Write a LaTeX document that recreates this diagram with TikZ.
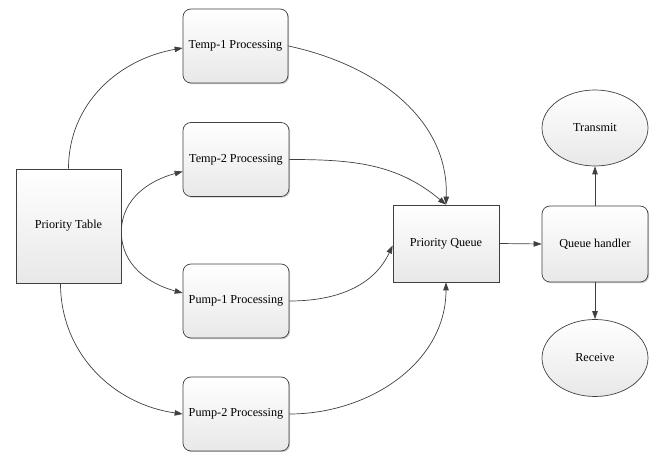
\documentclass[tikz,border=0pt]{standalone}
\usepackage{fontspec}
\setmainfont{Liberation Serif}
\newfontfamily\labelfont{Liberation Serif}
\usetikzlibrary{arrows.meta,shapes.geometric,shadows}
\definecolor{edge}{HTML}{404040}
\begin{document}
\begin{tikzpicture}[x=1pt,y=1pt,
  base/.style={draw=edge, line width=0.7pt, top color=white, bottom color=black!9,
    font=\labelfont\fontsize{12.2}{14}\selectfont, text=black, inner sep=0pt},
  sharpbox/.style={base, rectangle,
    drop shadow={shadow xshift=1.3pt, shadow yshift=-1.3pt, fill=black!55, opacity=1}},
  roundbox/.style={base, rectangle, rounded corners=8pt,
    drop shadow={shadow xshift=1.2pt, shadow yshift=-1.2pt, fill=black!20, opacity=1}},
  oval/.style={base, ellipse},
  link/.style={draw=edge, line width=0.7pt, -{Triangle[length=8pt,width=5.5pt]}}]
\useasboundingbox (0,0) rectangle (654,452);

% source table
\node[sharpbox, minimum width=105pt, minimum height=114pt] (PT) at (68.5,226) {Priority Table};

% processing tasks
\node[roundbox, minimum width=105pt, minimum height=74pt] (T1) at (235.5,406) {Temp-1 Processing};
\node[roundbox, minimum width=106pt, minimum height=74pt] (T2) at (236,292.5) {Temp-2 Processing};
\node[roundbox, minimum width=106pt, minimum height=74pt] (P1) at (236,151) {Pump-1 Processing};
\node[roundbox, minimum width=106pt, minimum height=74pt] (P2) at (236,38) {Pump-2 Processing};

% queue and handler
\node[sharpbox, minimum width=106pt, minimum height=77pt] (PQ) at (446,208.5) {Priority Queue};
\node[roundbox, minimum width=106pt, minimum height=76pt] (QH) at (595,208) {Queue handler};

% endpoints
\node[oval, minimum width=106pt, minimum height=76pt] (TX) at (595,324) {Transmit};
\node[oval, minimum width=106pt, minimum height=77pt] (RX) at (595,94) {Receive};

% table to tasks
\draw[link] (PT.north) to[out=90, in=190] ([yshift=-2pt]T1.west);
\draw[link] ([yshift=-6pt]PT.east) to[out=90, in=195] ([yshift=-12pt]T2.west);
\draw[link] ([yshift=-6pt]PT.east) to[out=-90, in=165] ([yshift=8pt]P1.west);
\draw[link] ([xshift=-8pt]PT.south) to[out=-90, in=172] (P2.west);

% tasks to queue
\draw[link] (T1.east) to[out=-12, in=88] (PQ.north);
\draw[link] (T2.east) to[out=0, in=140] (PQ.north);
\draw[link] (P1.east) to[out=0, in=245] ([yshift=-2pt]PQ.west);
\draw[link] (P2.east) to[out=0, in=-90] (PQ.south);

% queue to handler and outputs
\draw[link] (PQ.east) -- (QH.west);
\draw[link] (QH.north) -- (TX.south);
\draw[link] (QH.south) -- (RX.north);
\end{tikzpicture}
\end{document}
